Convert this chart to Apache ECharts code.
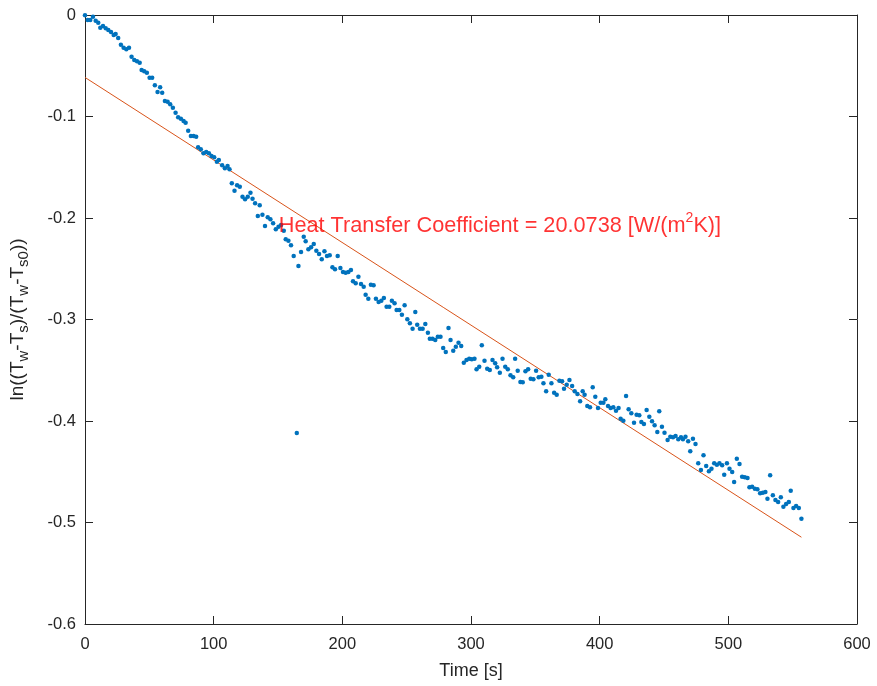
<!DOCTYPE html>
<html>
<head>
<meta charset="utf-8">
<script src="https://cdn.jsdelivr.net/npm/echarts@6/dist/echarts.min.js"></script>
<style>
html,body{margin:0;padding:0;background:#fff;}
#chart{width:877px;height:686px;}
</style>
</head>
<body>
<div id="chart"></div>
<script>
// Time [s]
var timeS = [0,2.1,4.1,6.2,8.3,10.3,11.9,14.0,16.1,18.1,20.2,22.3,23.8,25.8,27.9,30.0,32.1,34.2,36.2,38.3,40.4,42.5,44.0,46.0,48.1,50.2,52.2,54.3,56.4,58.4,60.0,62.1,64.2,66.2,68.3,70.4,72.4,74.5,76.6,78.2,80.2,82.3,84.4,86.4,87.9,90.0,92.1,94.2,96.3,98.3,100.4,102.5,104.0,106.6,108.7,110.8,112.3,114.1,116.2,118.2,120.3,122.4,124.4,126.5,128.6,130.2,132.2,134.3,135.8,137.9,139.9,142.0,144.1,146.2,148.3,150.4,152.4,154.5,156.0,158.1,160.1,162.2,165.9,167.9,170.0,171.5,173.6,175.7,177.8,179.8,181.9,184.0,186.1,188.1,190.2,192.3,194.3,196.4,198.5,200.5,202.6,204.7,206.7,208.3,210.4,212.5,214.5,216.6,218.1,220.2,222.2,224.3,226.1,228.2,230.3,232.3,234.4,236.5,238.5,240.6,242.2,244.3,246.3,248.4,250.5,252.5,254.6,256.7,258.2,260.3,262.4,264.5,266.5,268.0,270.1,272.2,274.2,276.3,278.4,280.4,282.5,284.1,286.2,288.2,290.3,292.4,294.4,296.5,298.6,300.6,302.7,304.3,306.4,308.4,310.5,312.6,314.6,316.7,318.8,320.3,322.4,324.5,326.6,328.6,330.7,332.8,334.3,336.3,338.4,340.2,342.3,344.4,346.4,348.5,350.6,352.6,354.7,356.3,358.4,360.4,362.5,364.6,366.6,368.7,370.8,372.3,374.4,376.5,378.6,380.6,382.7,384.8,386.8,388.3,390.4,392.5,394.6,396.6,398.7,400.8,402.9,404.4,406.5,408.5,410.6,412.7,414.7,416.3,418.4,420.5,422.5,424.6,426.7,428.7,430.8,432.4,434.4,436.5,438.6,440.7,442.7,444.8,446.3,448.4,450.4,452.8,454.9,457.0,459.0,461.1,463.2,464.7,466.7,468.8,470.4,472.5,474.5,476.6,478.7,480.7,482.8,484.9,486.9,489.0,491.1,493.1,495.2,496.8,498.9,500.9,503.0,504.5,506.6,508.7,510.7,512.8,514.9,516.4,518.5,520.6,522.6,524.7,526.8,528.8,530.4,532.5,534.6,536.6,538.7,540.8,542.8,544.9,547.0,548.5,550.6,552.7,554.8,556.8,164.6];
// ln((Tw-Ts)/(Tw-Ts0))
var lnRatio = [-0.0003,-0.0049,-0.0049,-0.0017,-0.0056,-0.0076,-0.0125,-0.0108,-0.0131,-0.0148,-0.0167,-0.0197,-0.0187,-0.0227,-0.0293,-0.0322,-0.0338,-0.0322,-0.0411,-0.0443,-0.0456,-0.0470,-0.0542,-0.0555,-0.0568,-0.0618,-0.0618,-0.0693,-0.0759,-0.0712,-0.0766,-0.0847,-0.0854,-0.0880,-0.0913,-0.0963,-0.1008,-0.1022,-0.1044,-0.1061,-0.1140,-0.1192,-0.1192,-0.1199,-0.1303,-0.1323,-0.1363,-0.1350,-0.1363,-0.1389,-0.1402,-0.1445,-0.1429,-0.1481,-0.1510,-0.1488,-0.1520,-0.1658,-0.1731,-0.1678,-0.1692,-0.1790,-0.1816,-0.1790,-0.1751,-0.1810,-0.1855,-0.1980,-0.1875,-0.1967,-0.2079,-0.1993,-0.2013,-0.2052,-0.2111,-0.2086,-0.2069,-0.2125,-0.2210,-0.2224,-0.2269,-0.2374,-0.2473,-0.2335,-0.2184,-0.2230,-0.2308,-0.2289,-0.2256,-0.2322,-0.2355,-0.2407,-0.2328,-0.2374,-0.2367,-0.2486,-0.2505,-0.2374,-0.2493,-0.2532,-0.2539,-0.2532,-0.2512,-0.2624,-0.2643,-0.2578,-0.2650,-0.2677,-0.2756,-0.2795,-0.2657,-0.2663,-0.2795,-0.2828,-0.2815,-0.2788,-0.2874,-0.2874,-0.2815,-0.2840,-0.2906,-0.2906,-0.2953,-0.2860,-0.2998,-0.3037,-0.3091,-0.2926,-0.3051,-0.3091,-0.3091,-0.3044,-0.3130,-0.3189,-0.3189,-0.3202,-0.3169,-0.3169,-0.3281,-0.3320,-0.3084,-0.3202,-0.3307,-0.3268,-0.3229,-0.3261,-0.3426,-0.3399,-0.3386,-0.3392,-0.3386,-0.3491,-0.3465,-0.3254,-0.3406,-0.3485,-0.3498,-0.3399,-0.3432,-0.3471,-0.3524,-0.3386,-0.3465,-0.3491,-0.3550,-0.3569,-0.3386,-0.3504,-0.3616,-0.3619,-0.3510,-0.3491,-0.3583,-0.3589,-0.3504,-0.3569,-0.3564,-0.3629,-0.3707,-0.3544,-0.3629,-0.3721,-0.3741,-0.3603,-0.3609,-0.3682,-0.3642,-0.3596,-0.3655,-0.3707,-0.3734,-0.3806,-0.3707,-0.3741,-0.3852,-0.3865,-0.3668,-0.3761,-0.3872,-0.3820,-0.3820,-0.3786,-0.3852,-0.3872,-0.3865,-0.3899,-0.3872,-0.3977,-0.3997,-0.3754,-0.3885,-0.3924,-0.4017,-0.3938,-0.3944,-0.4010,-0.4030,-0.3892,-0.3958,-0.4003,-0.4042,-0.4108,-0.3904,-0.4056,-0.4115,-0.4187,-0.4155,-0.4161,-0.4148,-0.4180,-0.4161,-0.4180,-0.4155,-0.4200,-0.4299,-0.4174,-0.4227,-0.4417,-0.4483,-0.4338,-0.4443,-0.4496,-0.4470,-0.4417,-0.4431,-0.4417,-0.4436,-0.4529,-0.4417,-0.4470,-0.4502,-0.4601,-0.4371,-0.4424,-0.4549,-0.4555,-0.4562,-0.4653,-0.4647,-0.4667,-0.4673,-0.4712,-0.4706,-0.4700,-0.4766,-0.4535,-0.4732,-0.4778,-0.4798,-0.4752,-0.4844,-0.4818,-0.4798,-0.4687,-0.4857,-0.4837,-0.4857,-0.4963,-0.4118];
// fitted line end points
var fitTime = [0, 556.8];
var fitValue = [-0.0615, -0.5145];
// annotation anchor
var noteTime = [150.6];
var noteValue = [-0.2079];
var xTicks = [0, 100, 200, 300, 400, 500, 600];
var yTicks = [-0.6, -0.5, -0.4, -0.3, -0.2, -0.1, 0];

var FONT = '"Liberation Sans", Arial, Helvetica, sans-serif';
var AX = '#262626';

var scatterData = timeS.map(function (t, i) { return [t, lnRatio[i]]; });
var fitData = fitTime.map(function (t, i) { return [t, fitValue[i]]; });
var noteData = noteTime.map(function (t, i) { return [t, noteValue[i]]; });

var chart = echarts.init(document.getElementById('chart'), null, { renderer: 'canvas' });

function baseAxis(extra) {
  var o = {
    type: 'value',
    axisLine: { show: true, onZero: false, lineStyle: { color: AX, width: 1 } },
    axisTick: { show: true, inside: true, length: 8, lineStyle: { color: AX, width: 1 } },
    splitLine: { show: false },
    axisLabel: { show: false }
  };
  for (var k in extra) o[k] = extra[k];
  return o;
}

chart.setOption({
  animation: false,
  backgroundColor: '#ffffff',
  grid: { left: 84, right: 20, top: 15, bottom: 62, containLabel: false },
  xAxis: [
    baseAxis({
      min: xTicks[0], max: xTicks[xTicks.length - 1], interval: 100, position: 'bottom',
      axisLabel: { show: true, color: AX, fontSize: 16.5, fontFamily: FONT, margin: 12 },
      name: 'Time [s]', nameLocation: 'middle', nameGap: 38,
      nameTextStyle: { color: AX, fontSize: 18, fontFamily: FONT }
    }),
    baseAxis({ min: xTicks[0], max: xTicks[xTicks.length - 1], interval: 100, position: 'top' })
  ],
  yAxis: [
    baseAxis({
      min: yTicks[0], max: yTicks[yTicks.length - 1], interval: 0.1, position: 'left',
      axisLabel: { show: true, color: AX, fontSize: 16.5, fontFamily: FONT, margin: 9 },
      name: '{n|ln((T}{s|w}{n|-T}{s|s}{n|)/(T}{s|w}{n|-T}{s|s0}{n|))}',
      nameLocation: 'middle', nameGap: 58, nameRotate: 90,
      nameTextStyle: {
        color: AX, fontSize: 19, fontFamily: FONT,
        rich: {
          n: { color: AX, fontSize: 19, fontFamily: FONT, lineHeight: 24, verticalAlign: 'bottom' },
          s: { color: AX, fontSize: 15, fontFamily: FONT, lineHeight: 24, verticalAlign: 'bottom', padding: [0, 0, -4, 0] }
        }
      }
    }),
    baseAxis({ min: yTicks[0], max: yTicks[yTicks.length - 1], interval: 0.1, position: 'right' })
  ],
  series: [
    {
      type: 'line', data: fitData, xAxisIndex: 0, yAxisIndex: 0,
      showSymbol: false, symbol: 'none',
      lineStyle: { color: '#D95319', width: 1 }, z: 2
    },
    {
      type: 'scatter', data: scatterData, xAxisIndex: 0, yAxisIndex: 0,
      symbol: 'circle', symbolSize: 4.5,
      itemStyle: { color: '#0072BD', opacity: 1 }, z: 3
    },
    {
      type: 'scatter', data: noteData, xAxisIndex: 0, yAxisIndex: 0,
      symbolSize: 0, silent: true, z: 4,
      label: {
        show: true, position: 'right', distance: 0,
        formatter: '{a|Heat Transfer Coefficient = 20.0738 [W/(m}{b|2}{a|K)]}',
        rich: {
          a: { color: '#FF0000', fontSize: 21.7, fontFamily: FONT, lineHeight: 26, verticalAlign: 'middle' },
          b: { color: '#FF0000', fontSize: 14, fontFamily: FONT, lineHeight: 26, verticalAlign: 'top', padding: [-2, 0, 0, 0] }
        }
      }
    }
  ]
});
</script>
</body>
</html>
